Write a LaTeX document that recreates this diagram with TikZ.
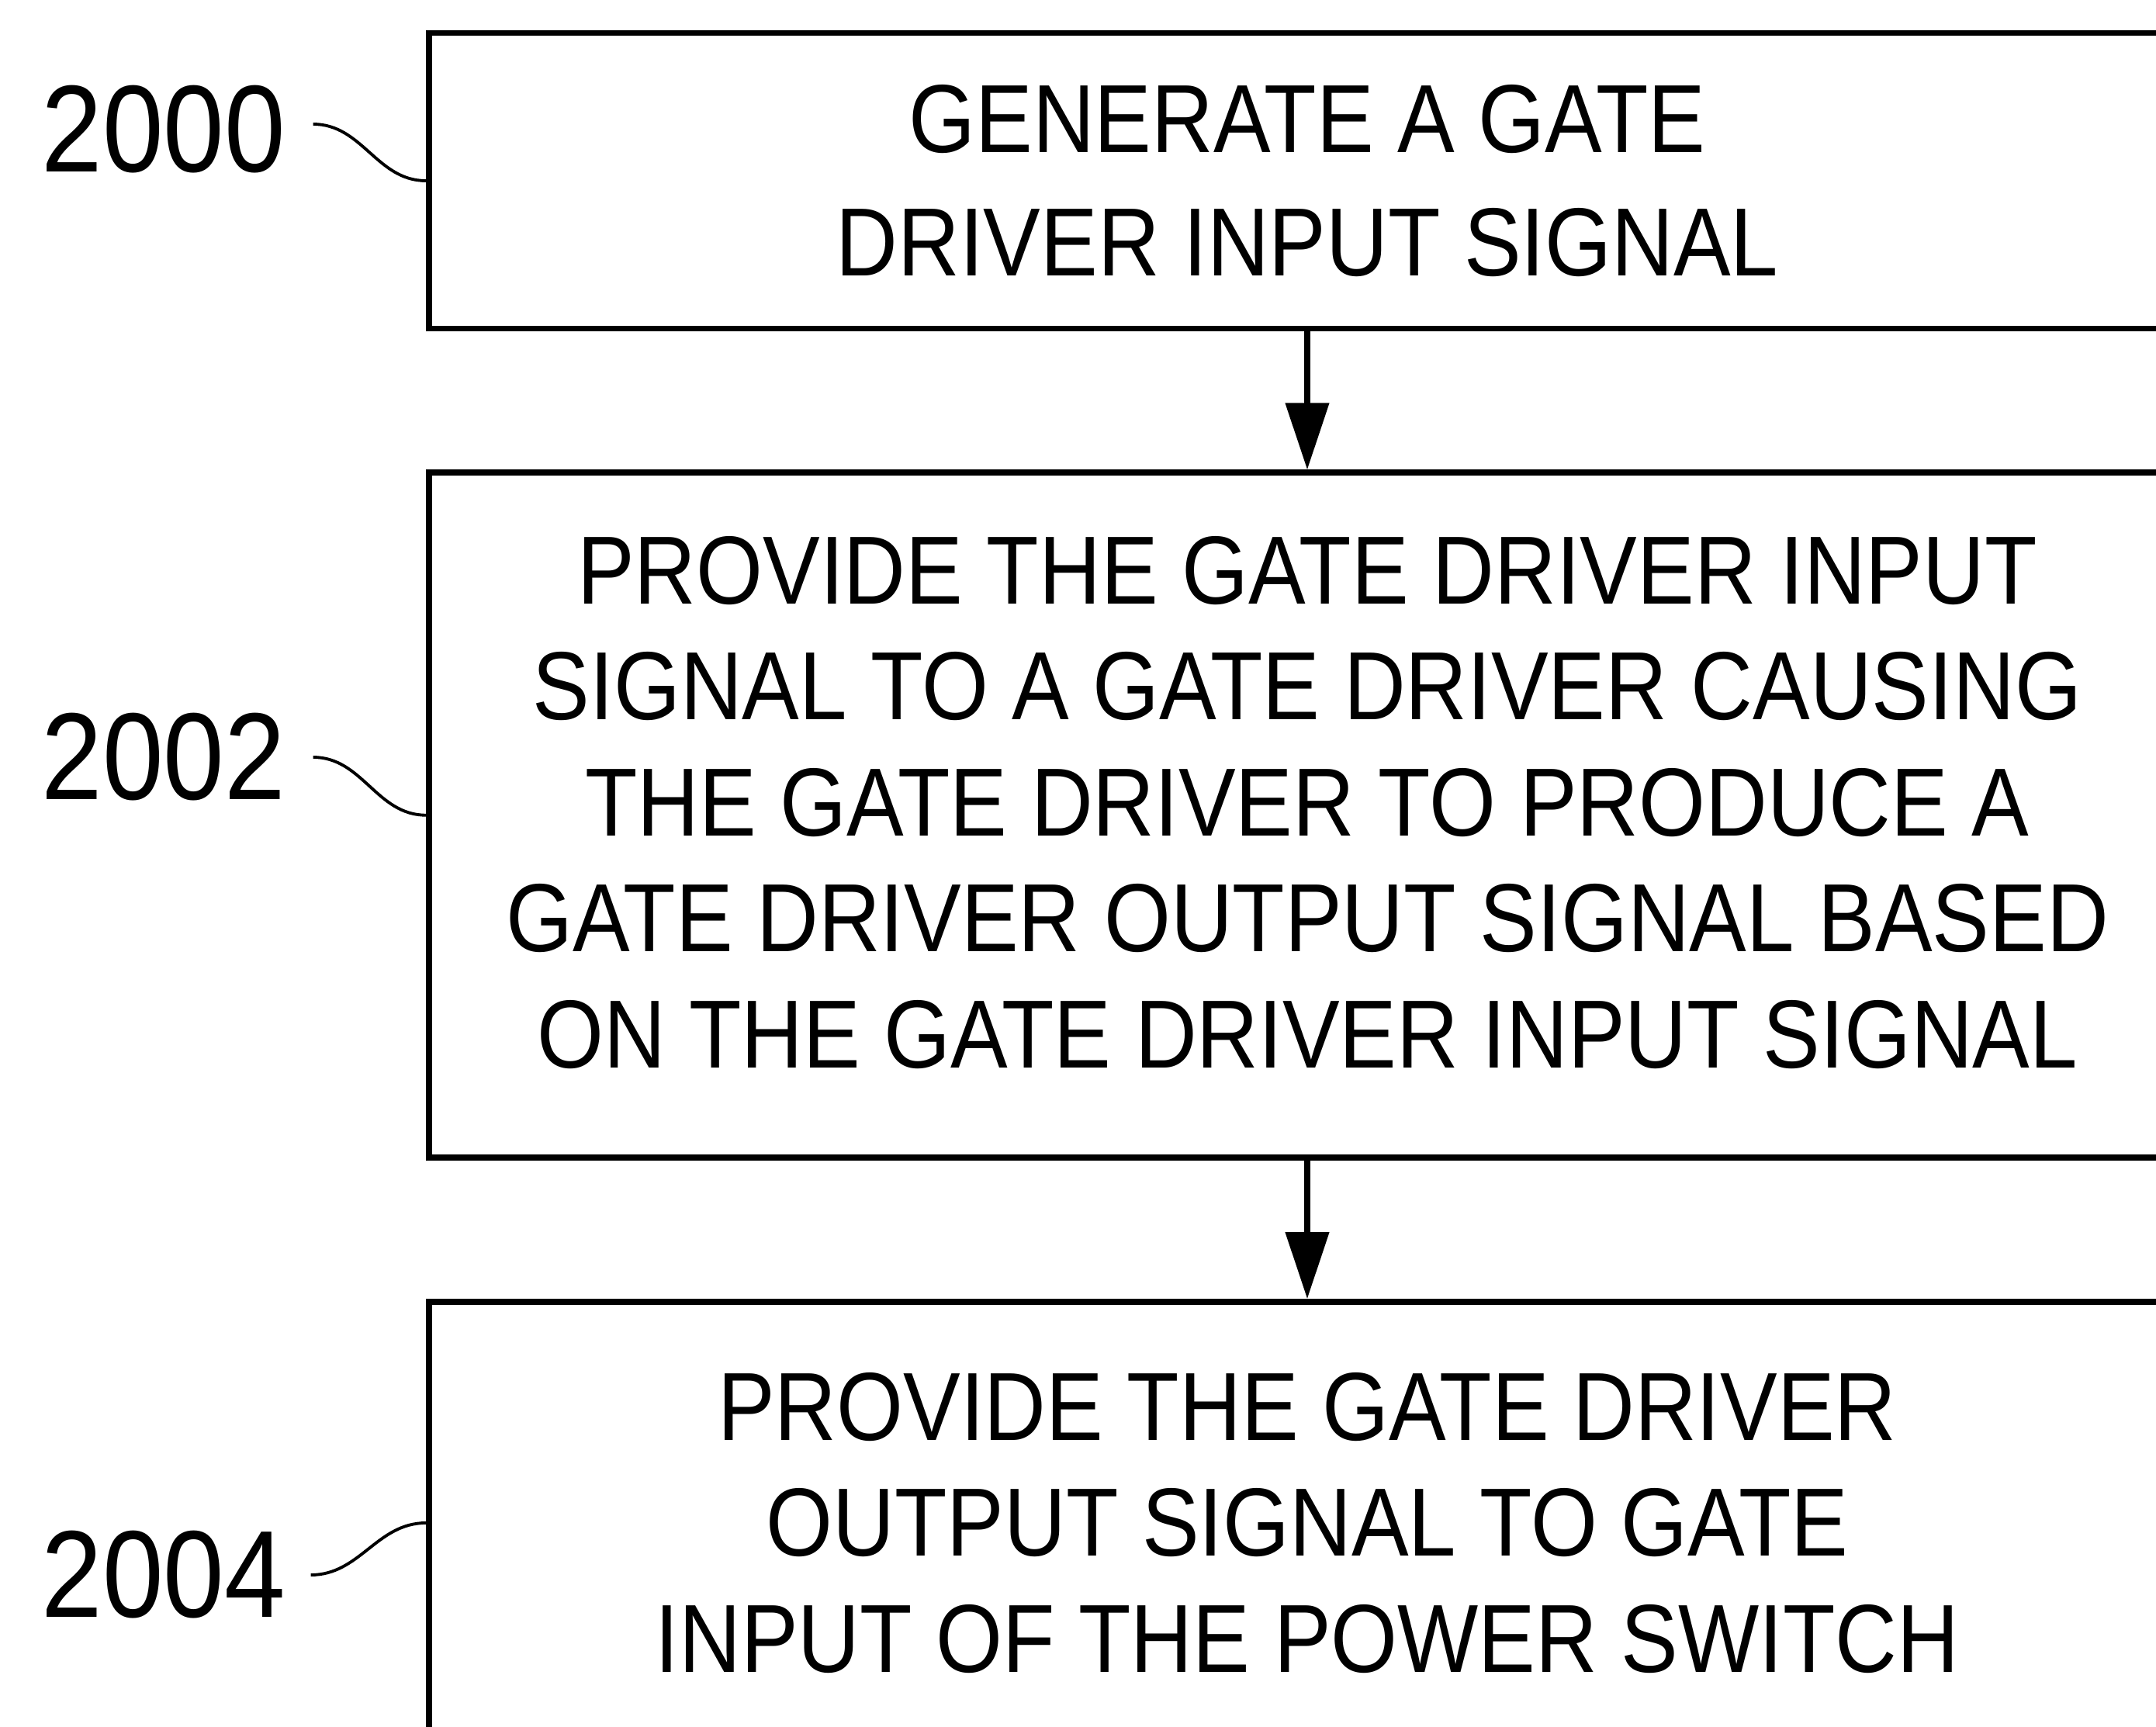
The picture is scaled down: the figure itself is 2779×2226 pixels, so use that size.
\documentclass[tikz,border=0pt]{standalone}
\usepackage{fontspec}
\setmainfont{Liberation Sans}[FakeStretch=0.885]
\usetikzlibrary{positioning,arrows.meta}

\begin{document}
\begin{tikzpicture}[x=0.1mm,y=-0.1mm,
  stepbox/.style={draw,line width=2.2pt,minimum width=226.4mm,align=center,
    inner sep=0pt,font=\fontsize{35.5}{42.5}\selectfont},
  reflabel/.style={inner sep=0pt,anchor=west,font=\fontsize{45.4}{50}\selectfont},
  leader/.style={line width=1.1pt},
  flow/.style={line width=2.2pt,-{Triangle[length=8.6mm,width=5.5mm]}},
  node distance=17.8mm]
\useasboundingbox (0,0) rectangle (2779,2226);
\clip (0,0) rectangle (2779,2226);
% process steps
\node[stepbox,minimum height=38.1mm,font=\fontsize{35.5}{45.5}\selectfont] (gen) at (1685,233)
  {GENERATE A GATE\\DRIVER INPUT SIGNAL};
\node[stepbox,minimum height=88.3mm,text depth=3.4mm,below=of gen] (drive)
  {PROVIDE THE GATE DRIVER INPUT\\SIGNAL TO A GATE DRIVER CAUSING\\THE GATE DRIVER TO PRODUCE A\\GATE DRIVER OUTPUT SIGNAL BASED\\ON THE GATE DRIVER INPUT SIGNAL};
\node[stepbox,minimum height=57mm,below=of drive] (apply)
  {PROVIDE THE GATE DRIVER\\OUTPUT SIGNAL TO GATE\\INPUT OF THE POWER SWITCH};
% flow arrows
\draw[flow] (gen) -- (drive);
\draw[flow] (drive) -- (apply);
% reference numerals
\node[reflabel] (r2000) at (53,167) {2000};
\node[reflabel] (r2002) at (53,976) {2002};
\node[reflabel] (r2004) at (53,2030) {2004};
\draw[leader] ([xshift=3.5mm,yshift=0.7mm]r2000.east) to[out=0,in=180] (gen.west);
\draw[leader] ([xshift=3.5mm]r2002.east) to[out=0,in=180] (drive.west);
\draw[leader] ([xshift=3.2mm]r2004.east) to[out=0,in=180] (apply.west);
\end{tikzpicture}
\end{document}
